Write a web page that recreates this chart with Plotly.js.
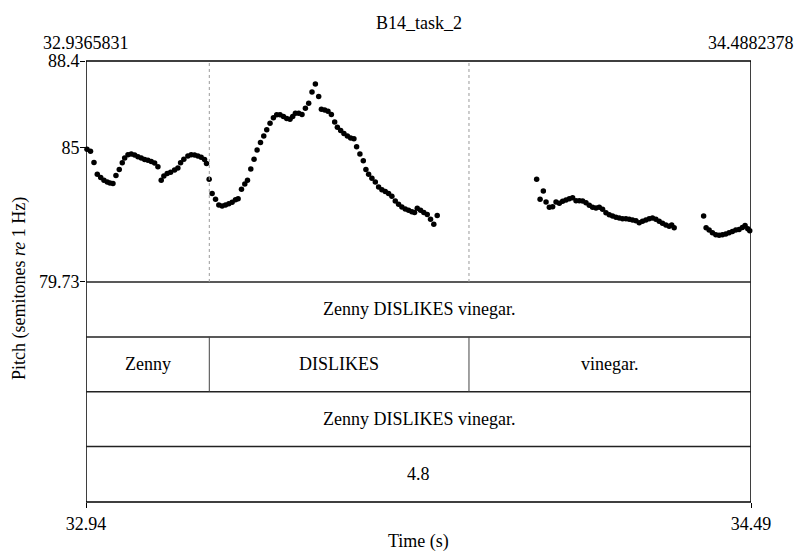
<!DOCTYPE html>
<html>
<head>
<meta charset="utf-8">
<script src="https://cdn.plot.ly/plotly-3.0.1.min.js"></script>
<style>
  html, body { margin: 0; padding: 0; background: #ffffff; }
  #chart { width: 798px; height: 551px; }
</style>
</head>
<body>
<div id="chart"></div>
<script>
// Time window of the selection (s)
const timeStart = 32.9365831;
const timeEnd = 34.4882378;

// Pitch range shown (semitones re 1 Hz)
const pitchMin = 79.73;
const pitchMax = 88.4;
const pitchTicks = [79.73, 85, 88.4];
const pitchTickText = ['79.73', '85', '88.4'];
const timeTickText = ['32.94', '34.49'];

// Pitch track: frame times (s)
const pitchTimes = [
  32.9389, 32.9471, 32.9552, 32.9629, 32.9709, 32.9785, 32.9862, 32.9925, 32.9995, 33.0065,
  33.0142, 33.0212, 33.0268, 33.0345, 33.0422, 33.0501, 33.0578, 33.0655, 33.0734, 33.0811,
  33.0888, 33.0967, 33.1044, 33.1121, 33.1183, 33.1260, 33.1340, 33.1433, 33.1510, 33.1573,
  33.1649, 33.1743, 33.1820, 33.1899, 33.1976, 33.2053, 33.2132, 33.2178, 33.2239, 33.2309,
  33.2388, 33.2465, 33.2542, 33.2621, 33.2698, 33.2775, 33.2854, 33.2915, 33.2994, 33.3071,
  33.3134, 33.3211, 33.3287, 33.3357, 33.3437, 33.3513, 33.3583, 33.3660, 33.3739, 33.3816,
  33.3893, 33.3972, 33.4049, 33.4126, 33.4189, 33.4252, 33.4329, 33.4406, 33.4485, 33.4562,
  33.4639, 33.4718, 33.4795, 33.4858, 33.4935, 33.5012, 33.5091, 33.5168, 33.5231, 33.5308,
  33.5384, 33.5464, 33.5541, 33.5617, 33.5680, 33.5757, 33.5836, 33.5897, 33.5960, 33.6037,
  33.6116, 33.6193, 33.6270, 33.6349, 33.6426, 33.6503, 33.6582, 33.6659, 33.6736, 33.6815,
  33.6892, 33.6969, 33.7032, 33.7095, 33.7172, 33.7248, 33.7328, 33.7405, 33.7481, 33.7561,
  33.9881, 33.9961, 34.0037, 34.0100, 34.0177, 34.0254, 34.0333, 34.0410, 34.0487, 34.0566,
  34.0643, 34.0720, 34.0799, 34.0876, 34.0953, 34.1032, 34.1109, 34.1186, 34.1265, 34.1342,
  34.1419, 34.1498, 34.1575, 34.1652, 34.1731, 34.1808, 34.1885, 34.1964, 34.2041, 34.2118,
  34.2197, 34.2274, 34.2351, 34.2430, 34.2507, 34.2584, 34.2663, 34.2740, 34.2817, 34.2896,
  34.2973, 34.3032, 34.3090,
  34.3777, 34.3835, 34.3905, 34.3982, 34.4061, 34.4138, 34.4215, 34.4294, 34.4371, 34.4448,
  34.4527, 34.4604, 34.4681, 34.4744, 34.4807, 34.4853
];

// Pitch track: values (semitones re 1 Hz)
const pitchValues = [
  84.94, 84.86, 84.42, 83.96, 83.83, 83.72, 83.65, 83.61, 83.59, 83.91,
  84.14, 84.41, 84.59, 84.72, 84.75, 84.71, 84.64, 84.59, 84.54, 84.51,
  84.46, 84.40, 84.25, 83.72, 83.89, 83.99, 84.04, 84.12, 84.20, 84.41,
  84.55, 84.67, 84.72, 84.71, 84.67, 84.62, 84.54, 84.38, 83.76, 83.20,
  82.98, 82.75, 82.71, 82.75, 82.80, 82.86, 82.96, 83.00, 83.37, 83.57,
  83.72, 84.16, 84.55, 84.91, 85.20, 85.46, 85.70, 85.96, 86.17, 86.29,
  86.29, 86.22, 86.14, 86.11, 86.22, 86.35, 86.35, 86.30, 86.55, 86.74,
  87.18, 87.50, 87.01, 86.51, 86.48, 86.43, 86.30, 86.01, 85.80, 85.67,
  85.56, 85.46, 85.38, 85.35, 85.04, 84.75, 84.49, 84.14, 83.96, 83.80,
  83.65, 83.46, 83.35, 83.28, 83.20, 83.09, 82.91, 82.78, 82.67, 82.59,
  82.54, 82.49, 82.46, 82.62, 82.54, 82.46, 82.38, 82.19, 82.00, 82.34,
  83.76, 82.98, 83.30, 82.87, 82.66, 82.68, 82.87, 82.82, 82.90, 82.95,
  83.00, 83.03, 82.92, 82.92, 82.91, 82.84, 82.74, 82.66, 82.63, 82.66,
  82.58, 82.45, 82.37, 82.32, 82.27, 82.24, 82.21, 82.21, 82.19, 82.16,
  82.13, 82.05, 82.11, 82.16, 82.21, 82.24, 82.19, 82.11, 82.03, 81.97,
  81.92, 81.97, 81.86,
  82.32, 81.86, 81.77, 81.66, 81.58, 81.56, 81.58, 81.61, 81.66, 81.71,
  81.77, 81.79, 81.87, 81.95, 81.82, 81.74
];

// Word tier intervals
const wordLabels = ['Zenny', 'DISLIKES', 'vinegar.'];
const wordStarts = [32.9365831, 33.2243, 33.8302];
const wordEnds = [33.2243, 33.8302, 34.4882378];

// Single-interval tiers, top to bottom (the word tier sits second)
const sentenceText = 'Zenny DISLIKES vinegar.';
const scoreText = '4.8';

const chartTitle = 'B14_task_2';

// ---- layout geometry (paper fractions) ----
const pitchBottom = 0.4989;                       // bottom of the pitch panel
const tierEdges = [0.4989, 0.3744, 0.25, 0.1256, 0]; // tier borders, top to bottom
const FONT = 'Liberation Serif';
const FS = 18;

const shapes = [];
const annotations = [];

// outer frame
shapes.push({type: 'rect', xref: 'x', yref: 'paper', x0: timeStart, x1: timeEnd, y0: 0, y1: 1,
  line: {color: '#000', width: 1.5}, fillcolor: 'rgba(0,0,0,0)'});

// tier borders
tierEdges.slice(0, 4).forEach(function (y) {
  shapes.push({type: 'line', xref: 'x', yref: 'paper', x0: timeStart, x1: timeEnd, y0: y, y1: y,
    line: {color: '#222', width: 1.5}});
});

// word boundaries: dotted in the pitch panel, solid inside the word tier
wordStarts.slice(1).forEach(function (t) {
  shapes.push({type: 'line', xref: 'x', yref: 'paper', x0: t, x1: t, y0: pitchBottom, y1: 1,
    line: {color: '#9a9a9a', width: 1, dash: 'dot'}});
  shapes.push({type: 'line', xref: 'x', yref: 'paper', x0: t, x1: t, y0: tierEdges[2], y1: tierEdges[1],
    line: {color: '#444', width: 1}});
});

function tierCenter(i) { return (tierEdges[i] + tierEdges[i + 1]) / 2; }
function label(text, x, xref, y, extra) {
  annotations.push(Object.assign({text: text, x: x, xref: xref, y: y, yref: 'paper',
    xanchor: 'center', yanchor: 'middle', showarrow: false,
    font: {family: FONT, size: FS, color: '#000'}}, extra || {}));
}

const midTime = (timeStart + timeEnd) / 2;
label(sentenceText, midTime, 'x', tierCenter(0));
wordLabels.forEach(function (w, i) {
  label(w, (wordStarts[i] + wordEnds[i]) / 2, 'x', tierCenter(1));
});
label(sentenceText, midTime, 'x', tierCenter(2));
label(scoreText, midTime, 'x', tierCenter(3));

// title, exact window edges on top, axis titles
label(chartTitle, 0.5, 'paper', 1.086);
label(timeStart.toString(), timeStart, 'x', 1.0407);
label(timeEnd.toString(), timeEnd, 'x', 1.0407);
label('Time (s)', 0.5, 'paper', -0.09);
label('Pitch (semitones <i>re</i> 1 Hz)', -0.1, 'paper', 0.484, {textangle: -90});

const trace = {
  type: 'scatter',
  mode: 'markers',
  x: pitchTimes,
  y: pitchValues,
  marker: {color: '#000', size: 5.5, line: {width: 0}},
  cliponaxis: false,
  hoverinfo: 'x+y'
};

const layout = {
  width: 798,
  height: 551,
  margin: {l: 86, r: 47, t: 61, b: 49, pad: 0},
  paper_bgcolor: '#fff',
  plot_bgcolor: '#fff',
  showlegend: false,
  font: {family: FONT, size: FS, color: '#000'},
  xaxis: {
    range: [timeStart, timeEnd],
    anchor: 'free',
    position: 0,
    showgrid: false,
    zeroline: false,
    showline: false,
    ticks: 'outside',
    ticklen: 5,
    tickwidth: 1,
    tickcolor: '#000',
    tickvals: [timeStart, timeEnd],
    ticktext: timeTickText,
    tickfont: {family: FONT, size: FS, color: '#000'}
  },
  yaxis: {
    domain: [pitchBottom, 1],
    range: [pitchMin, pitchMax],
    showgrid: false,
    zeroline: false,
    showline: false,
    ticks: 'outside',
    ticklen: 5,
    tickwidth: 1,
    tickcolor: '#000',
    ticklabelstandoff: -3,
    tickvals: pitchTicks,
    ticktext: pitchTickText,
    tickfont: {family: FONT, size: FS, color: '#000'}
  },
  shapes: shapes,
  annotations: annotations
};

Plotly.newPlot('chart', [trace], layout, {displayModeBar: false, staticPlot: true});
</script>
</body>
</html>
